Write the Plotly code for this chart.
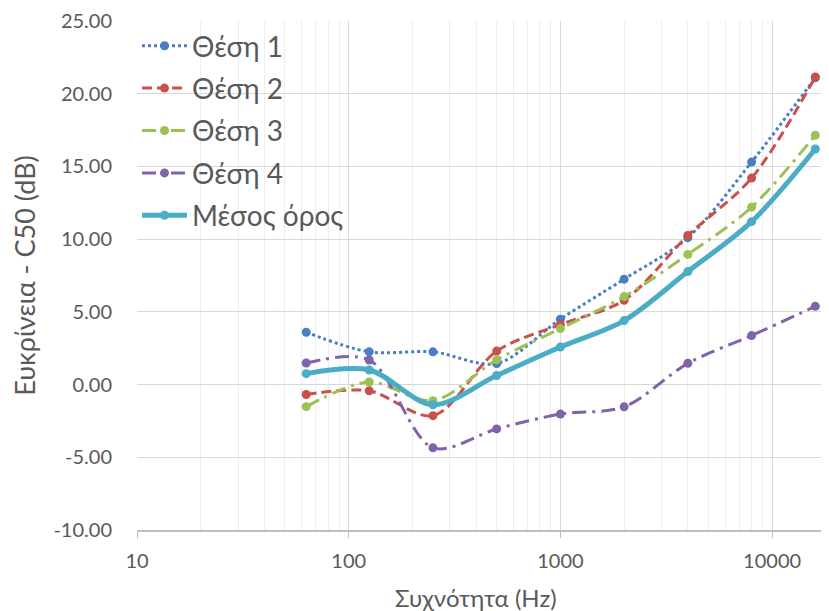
import plotly.graph_objects as go

freqs = [63, 125, 250, 500, 1000, 2000, 4000, 8000, 16000]
thesi1 = [3.6, 2.25, 2.25, 1.45, 4.5, 7.25, 10.1, 15.3, 21.1]
thesi2 = [-0.68, -0.43, -2.14, 2.3, 4.13, 5.8, 10.25, 14.2, 21.15]
thesi3 = [-1.52, 0.18, -1.11, 1.7, 3.85, 6.05, 8.95, 12.2, 17.15]
thesi4 = [1.48, 1.69, -4.35, -3.05, -2.03, -1.53, 1.46, 3.37, 5.38]
mesos = [0.75, 1.0, -1.39, 0.62, 2.58, 4.4, 7.77, 11.2, 16.2]

names = ["Θέση 1", "Θέση 2", "Θέση 3", "Θέση 4", "Μέσος όρος"]
x_ticks = [10, 100, 1000, 10000]
y_ticks = [-10, -5, 0, 5, 10, 15, 20, 25]
y_ticktext = [f"{v:.2f}" for v in y_ticks]

colors = ["#4A7EC4", "#C9504B", "#9BC155", "#8063A8", "#4BACC6"]
dashes = ["dot", "10px,5px", "14px,6px,3px,6px", "14px,6px,3px,6px", "solid"]
widths = [3, 3, 3, 3, 5]
series = [thesi1, thesi2, thesi3, thesi4, mesos]

FONT = "Lato"
TXT = "#595959"

# page body has an 8px default margin: compensate
OFF = 8
W, H = 829 - OFF, 611 - OFF
L, T, B = 137 - OFF, 18 - OFF, 611 - 530

fig = go.Figure()
for i, (nm, ys) in enumerate(zip(names, series)):
    fig.add_trace(go.Scatter(
        x=freqs, y=ys, name=nm, mode="lines+markers",
        line=dict(color=colors[i], width=widths[i], dash=dashes[i], shape="spline", smoothing=0.9),
        marker=dict(color=colors[i], size=9, symbol="circle"),
        legendgroup=f"g{i}",
    ))

fig.update_layout(
    width=W, height=H,
    margin=dict(l=L, r=0, t=T, b=B),
    paper_bgcolor="white", plot_bgcolor="white",
    font=dict(family=FONT, color=TXT),
    showlegend=True,
    legend=dict(
        x=0.0, y=1.0, xanchor="left", yanchor="top",
        bgcolor="rgba(0,0,0,0)", font=dict(size=28, color=TXT, family=FONT),
        tracegroupgap=3, itemwidth=45,
    ),
    annotations=[dict(
        text="Συχνότητα (Hz)", xref="paper", yref="paper",
        x=(476 - 137) / 692, y=0, yshift=-67, xanchor="center", yanchor="middle",
        showarrow=False, font=dict(size=24, color=TXT, family=FONT),
    )],
)

fig.update_xaxes(
    type="log", range=[1, 1 + 692 / 211.7],
    tickvals=x_ticks, ticktext=[str(v) for v in x_ticks],
    showgrid=True, gridcolor="#D9D9D9", gridwidth=1,
    minor=dict(tickvals=[v * m for v in x_ticks for m in range(2, 10)],
               showgrid=True, gridcolor="#EDEDED", gridwidth=1),
    showline=True, linecolor="#BFBFBF", linewidth=1.5,
    ticks="outside", ticklen=6, tickcolor="#BFBFBF",
    tickfont=dict(size=20, color=TXT, family=FONT), ticklabelstandoff=6,
    zeroline=False,
)
fig.update_yaxes(
    range=[-10, 25], tickvals=y_ticks, ticktext=y_ticktext,
    showgrid=True, gridcolor="#D9D9D9", gridwidth=1.2,
    showline=False, zeroline=False, ticks="", ticklabeloverflow="allow",
    tickfont=dict(size=20, color=TXT, family=FONT), ticklabelstandoff=24,
    title=dict(text="Ευκρίνεια - C50 (dB)", font=dict(size=27, color=TXT, family=FONT), standoff=12),
)

fig.write_html("out.html")
